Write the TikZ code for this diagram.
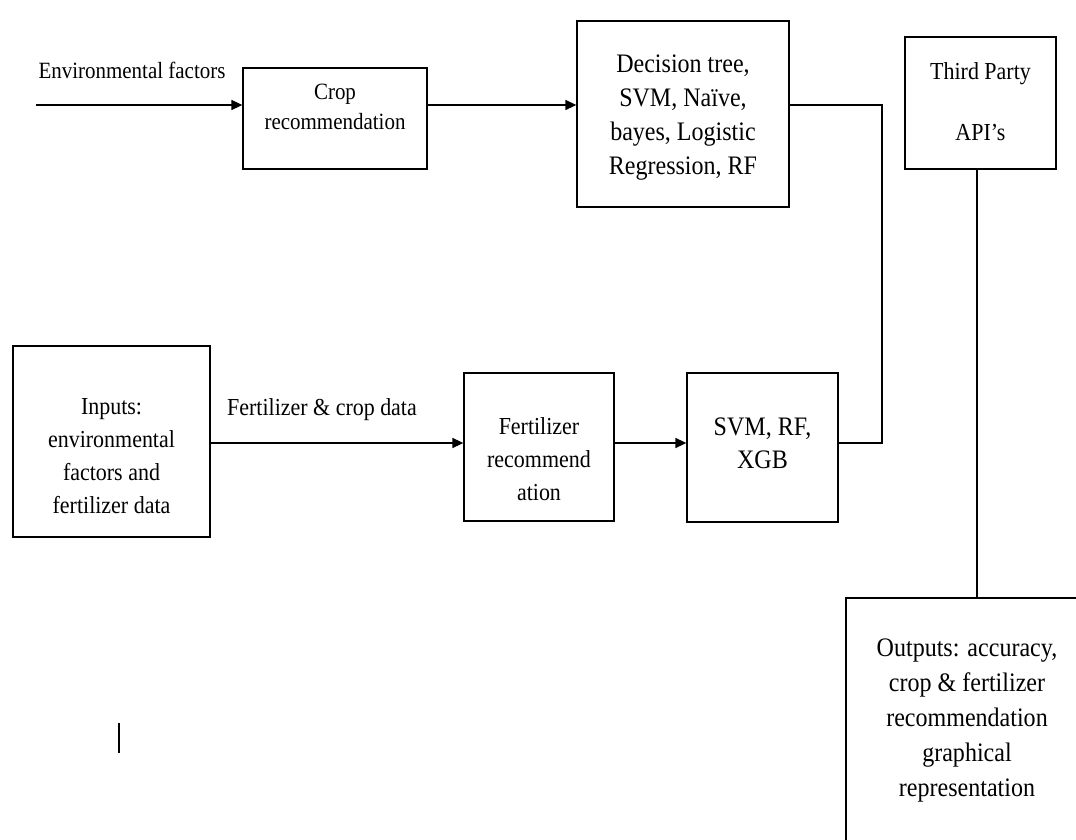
\documentclass[tikz,border=0pt]{standalone}
\usepackage{fontspec}
\setmainfont{Liberation Serif}[FakeStretch=0.9]
\usetikzlibrary{arrows.meta,
                positioning}

\begin{document}
\begin{tikzpicture}[x=1pt, y=-1pt,
                    block/.style={draw, line width=1.3pt, inner sep=0pt},
                    words/.style={align=center, inner sep=0pt, font=\fontsize{24.4}{33}\selectfont},
                    arrow/.style={-{Triangle[length=11pt,width=10pt]}, line width=1.5pt},
                    wire/.style={line width=1.4pt}
                    ]
        \useasboundingbox (0,0) rectangle (1076,840);
        \clip (0,0) rectangle (1076,840);

        % crop branch
        \node[block, minimum width=184pt, minimum height=101pt,
              label={[words, font=\fontsize{23.3}{30}\selectfont, yshift=12pt]center:{Crop\\recommendation}}]
              (crop) at (335,118.5) {};
        \node[block, minimum width=212pt, minimum height=186pt,
              label={[words, font=\fontsize{26.7}{34}\selectfont, yshift=-4pt]center:{Decision tree,\\SVM, Naïve,\\bayes, Logistic\\Regression, RF}}]
              (dec) at (683,114) {};
        \node[block, minimum width=151pt, minimum height=132pt,
              label={[words, yshift=1pt]center:{Third Party\\[28pt]API’s}}]
              (third) at (980.5,103) {};

        % fertilizer branch
        \node[block, minimum width=197pt, minimum height=191pt,
              label={[words, yshift=-15pt]center:{Inputs:\\environmental\\factors and\\fertilizer data}}]
              (inputs) at (111.5,441.5) {};
        \node[block, minimum width=150pt, minimum height=148pt,
              label={[words, yshift=-12pt]center:{Fertilizer\\recommend\\ation}}]
              (fert) at (539,447) {};
        \node[block, minimum width=151pt, minimum height=149pt,
              label={[words, font=\fontsize{26.7}{33}\selectfont, yshift=4pt]center:{SVM, RF,\\XGB}}]
              (svm) at (762.5,447.5) {};
        \node[block, minimum width=242pt, minimum height=244pt,
              label={[words, font=\fontsize{26.7}{35}\selectfont]center:{Outputs: accuracy,\\crop \& fertilizer\\recommendation\\graphical\\representation}}]
              (outputs) at (967,720) {};

        % edge labels
        \node[words, font=\fontsize{23.3}{30}\selectfont] (envtext) at (132,70) {Environmental factors};
        \node[words] (fertdata) at (322,410) {Fertilizer \& crop data};

        \coordinate (envin) at (36,105);
        \coordinate (elbow) at (882,443);

        \draw[arrow] (envin) -- (envin -| crop.west);
        \draw[arrow] (crop.east |- envin) -- (dec.west |- envin);
        \draw[wire] (dec.east |- envin) -| (elbow) -- (svm.east |- elbow);
        \draw[arrow] (inputs.east |- elbow) -- (fert.west |- elbow);
        \draw[arrow] (fert.east |- elbow) -- (svm.west |- elbow);
        \draw[wire] ([xshift=-3.5pt]third.south) -- ([xshift=-3.5pt]third.south |- outputs.north);

        % stray mark
        \coordinate (tick) at (119,723);
        \draw[wire] (tick) -- ++(0,30);
\end{tikzpicture}
\end{document}
